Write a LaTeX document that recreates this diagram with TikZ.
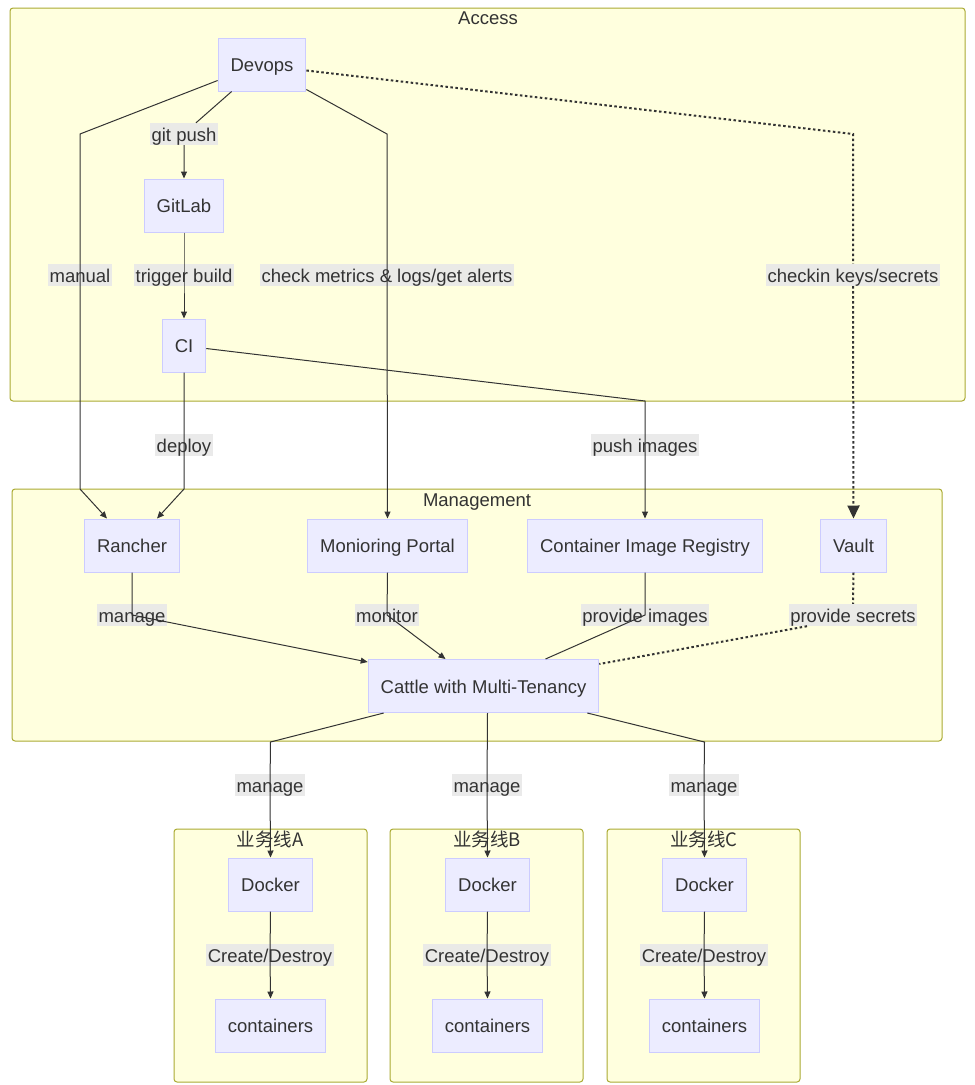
\documentclass[tikz,border=0pt]{standalone}
\usepackage{fontspec}
\setmainfont{Liberation Sans}
\newfontfamily\cjk{Noto Sans CJK SC}
\usetikzlibrary{arrows.meta,calc}
\definecolor{clfill}{HTML}{FFFFDE}
\definecolor{clline}{HTML}{AAAA33}
\definecolor{ndfill}{HTML}{ECECFF}
\definecolor{ndline}{HTML}{CCCCFF}
\definecolor{lbfill}{HTML}{E8E8E8}
\definecolor{ink}{HTML}{333333}
\newcommand\dfont{\fontsize{18.5}{22}\selectfont}
\tikzset{
  cluster/.style={draw=clline, fill=clfill, line width=1pt, rounded corners=3pt},
  ctitle/.style={text=ink, font=\dfont, inner sep=0pt, anchor=base},
  box/.style={draw=ndline, fill=ndfill, line width=1pt, minimum height=53pt,
    inner xsep=12.5pt, inner ysep=0pt, text height=18pt, text depth=3.6pt, text=ink, font=\dfont},
  lbl/.style={fill=lbfill, fill opacity=0.9, text opacity=1, inner xsep=1.5pt, inner ysep=1pt,
    text height=17pt, text depth=3pt, text=ink, font=\dfont},
  edge/.style={draw=ink, line width=1pt},
  tip/.style={-{Triangle[length=7pt,width=6pt]}},
  dots/.style={draw=ink, line width=2pt, dash pattern=on 2.5pt off 2.5pt},
}
\begin{document}
\begin{tikzpicture}[x=1pt,y=-1pt]
\useasboundingbox (0,0) rectangle (975,1085);
% clusters
\draw[cluster] (10,8) rectangle (965,401);
\node[ctitle] (tAccess) at (488,24.5) {Access};
\draw[cluster] (12,489) rectangle (942,741);
\node[ctitle] (tMgmt) at (477,506) {Management};
\draw[cluster] (174,829) rectangle (367,1082);
\node[ctitle] (tA) at (270,846) {\cjk 业务线A};
\draw[cluster] (390,829) rectangle (583,1082);
\node[ctitle] (tB) at (487,846) {\cjk 业务线B};
\draw[cluster] (607,829) rectangle (800,1082);
\node[ctitle] (tC) at (704,846) {\cjk 业务线C};

% nodes
\node[box] (devops) at (262,64.5) {Devops};
\node[box] (gitlab) at (184,205.5) {GitLab};
\node[box] (ci) at (184,345.5) {CI};
\node[box] (rancher) at (132,545.5) {Rancher};
\node[box] (monitor) at (387.5,545.5) {Monioring Portal};
\node[box] (registry) at (645,545.5) {Container Image Registry};
\node[box] (vault) at (853.5,545.5) {Vault};
\node[box] (cattle) at (483.5,686) {Cattle with Multi-Tenancy};
\node[box] (dockerA) at (270.5,884.5) {Docker};
\node[box] (dockerB) at (487.5,884.5) {Docker};
\node[box] (dockerC) at (704.5,884.5) {Docker};
\node[box] (contA) at (270.5,1025.5) {containers};
\node[box] (contB) at (487.5,1025.5) {containers};
\node[box] (contC) at (704.5,1025.5) {containers};

% edge labels
\node[lbl] (lGit) at (184,134) {git push};
\node[lbl] (lManual) at (80,275) {manual};
\node[lbl] (lTrig) at (184,275) {trigger build};
\node[lbl] (lCheck) at (387,275) {check metrics \& logs/get alerts};
\node[lbl] (lKeys) at (853,275) {checkin keys/secrets};
\node[lbl] (lDeploy) at (184,445) {deploy};
\node[lbl] (lPush) at (645,445) {push images};
\node[lbl] (lMan) at (132,615) {manage};
\node[lbl] (lMon) at (387,615) {monitor};
\node[lbl] (lProv) at (645,615) {provide images};
\node[lbl] (lSec) at (853,615) {provide secrets};
\node[lbl] (lMA) at (270,785) {manage};
\node[lbl] (lMB) at (487,785) {manage};
\node[lbl] (lMC) at (704,785) {manage};
\node[lbl] (lCA) at (270,955) {Create/Destroy};
\node[lbl] (lCB) at (487,955) {Create/Destroy};
\node[lbl] (lCC) at (704,955) {Create/Destroy};

% edges
\draw[edge,tip] ($(devops.south west)+(0,-11)$) -- (80,134) -- (lManual.center) -- (80,489) -- ($(rancher.north)+(-25,0)$);
\draw[edge,tip] ($(devops.south west)+(14,0)$) -- ($(lGit.north)+(12,0)$) ($(lGit.south)$) -- (gitlab.north);
\draw[edge,tip] (gitlab.south) -- (lTrig.center) -- (ci.north);
\draw[edge,tip] ($(devops.south east)+(0,-2)$) -- (387,134) -- (lCheck.center) -- (monitor.north);
\draw[dots,-{Triangle[length=13pt,width=12pt]}] ($(devops.east)+(0,6)$) -- (853,134) -- (lKeys.north) (lKeys.south) -- (vault.north);
\draw[edge,tip] ($(ci.east)+(0,3)$) -- (645,401) -- (lPush.center) -- (registry.north);
\draw[edge,tip] (ci.south) -- (lDeploy.center) -- (184,489) -- ($(rancher.north)+(25,0)$);
\draw[edge,tip] (rancher.south) -- (lMan.center) -- ($(cattle.north west)+(0,3)$);
\draw[edge,tip] (monitor.south) -- (lMon.center) -- ($(cattle.north)+(-38,0)$);
\draw[edge] (registry.south) -- (lProv.center) -- ($(cattle.north)+(62,0)$);
\draw[dots] (vault.south) -- (lSec.north) ($(lSec.south)+(-46,0)$) -- ($(cattle.north east)+(0,5)$);
\draw[edge,tip] ($(cattle.south west)+(16,0)$) -- (270.5,742) -- (lMA.center) -- (dockerA.north);
\draw[edge,tip] ($(cattle.south)+(4,0)$) -- (lMB.center) -- (dockerB.north);
\draw[edge,tip] ($(cattle.south east)+(-12,0)$) -- (704.5,742) -- (lMC.center) -- (dockerC.north);
\draw[edge,tip] (dockerA.south) -- (lCA.center) -- (contA.north);
\draw[edge,tip] (dockerB.south) -- (lCB.center) -- (contB.north);
\draw[edge,tip] (dockerC.south) -- (lCC.center) -- (contC.north);
\end{tikzpicture}
\end{document}
